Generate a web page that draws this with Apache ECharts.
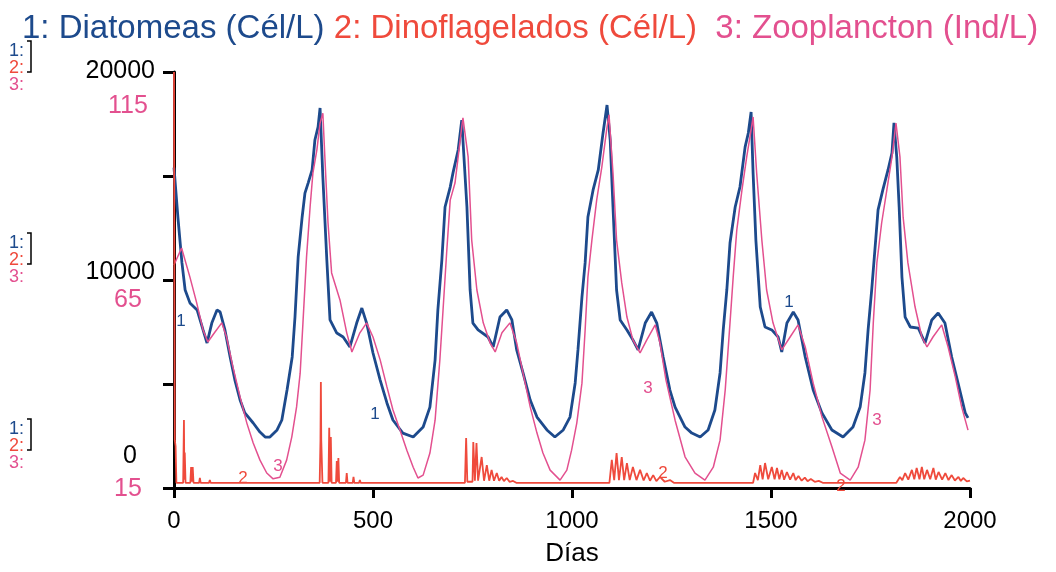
<!DOCTYPE html>
<html><head><meta charset="utf-8">
<script src="https://cdn.jsdelivr.net/npm/echarts@6/dist/echarts.min.js"></script>
<style>html,body{margin:0;padding:0;background:#fff}#c{width:1056px;height:572px}</style>
</head><body><div id="c"></div>
<script>
// ---- data ----
const titleParts = ['1: Diatomeas (Cél/L)', '2: Dinoflagelados (Cél/L)', '3: Zooplancton (Ind/L)'];
const xName = 'Días';
const xTicks = [0, 500, 1000, 1500, 2000];
const diatTickLabels = [0, 10000, 20000];
const zooTickLabels = [15, 65, 115];

const diatDays = [0,10,20,28,40,58,73,83,95,108,116,128,141,153,166,178,199,216,229,241,259,271,284,297,304,312,322,329,337,347,354,362,367,374,384,392,409,425,442,459,472,484,500,518,535,550,575,601,626,643,656,663,673,681,694,701,714,723,736,744,751,764,789,802,819,836,849,861,877,895,912,937,957,978,995,1008,1015,1025,1033,1040,1053,1066,1078,1088,1096,1103,1112,1121,1138,1153,1166,1184,1200,1213,1229,1246,1259,1284,1301,1322,1342,1359,1372,1380,1389,1397,1410,1422,1435,1443,1450,1455,1462,1473,1485,1502,1518,1527,1540,1556,1568,1586,1606,1628,1653,1681,1706,1724,1736,1744,1753,1761,1769,1781,1794,1804,1809,1816,1822,1829,1837,1850,1870,1887,1904,1920,1937,1954,1970,1988,1995];
const diatVals = [15400,12980,10820,9520,8900,8560,7600,6970,7930,8560,8460,7600,6300,5190,4230,3610,3125,2690,2450,2450,2790,3270,4710,6300,8220,11110,13030,14180,14660,15290,16730,17360,18270,14950,10960,8080,7450,7260,6780,7930,8650,7930,6490,5190,4090,3270,2640,2450,2930,3890,6150,8560,10960,13510,14470,15150,16250,17690,13510,9520,7930,7600,7260,6780,8220,8560,8080,6640,5530,4230,3410,2790,2450,2790,3410,5050,6640,9180,10820,13030,14330,15290,17070,18410,16730,13510,9520,8080,7600,7120,6640,7930,8460,7930,6300,4710,3890,2930,2640,2450,2790,3750,5530,7600,9520,11780,13510,14470,16400,17070,18080,15150,11920,8700,7740,7600,7260,6540,7930,8460,8080,6300,4710,3610,2790,2450,2930,3890,5530,7600,9520,11440,13370,14330,15290,16110,17550,15910,13510,10140,8220,7740,7690,6970,8080,8410,7930,6300,5050,3610,3370];

const zooDays = [0,19,40,57,73,85,103,120,132,148,166,183,199,216,233,249,266,283,296,308,317,324,333,342,349,359,367,374,379,387,396,417,434,447,467,484,500,518,535,550,568,585,601,613,626,643,656,668,676,685,694,706,714,723,726,739,748,761,777,794,807,824,844,861,877,895,912,927,945,970,987,999,1012,1025,1033,1040,1050,1062,1075,1087,1093,1103,1112,1125,1138,1153,1171,1188,1209,1221,1236,1259,1284,1309,1334,1355,1372,1385,1397,1405,1414,1427,1439,1450,1455,1464,1477,1489,1505,1527,1548,1568,1586,1606,1628,1653,1674,1699,1719,1736,1749,1757,1766,1778,1791,1804,1814,1824,1832,1844,1862,1879,1892,1907,1929,1945,1963,1979,1995];
const zooVals = [68.6,72.7,65.7,59.5,53.0,50.1,52.5,54.7,51.3,44.1,36.9,30.6,25.8,21.7,18.6,17.2,17.6,21.7,27.3,34.5,42.6,54.7,70.5,82.6,90.7,96.3,102.7,105.1,94.6,78.7,66.7,60.2,52.3,47.7,52.3,54.7,51.3,45.8,39.3,33.8,28.9,24.1,20.0,17.4,18.1,23.4,31.3,45.8,57.8,71.5,84.2,88.3,94.6,101.8,104.0,94.6,74.6,62.6,54.7,49.9,47.7,52.3,54.7,49.9,42.6,34.5,28.2,23.4,19.3,16.9,19.3,24.1,30.6,40.2,53.0,65.7,74.6,84.2,92.2,101.1,104.7,90.7,74.6,64.3,56.1,50.6,47.5,50.6,54.2,49.9,41.0,31.3,22.5,18.6,16.9,20.0,26.5,38.6,54.7,65.7,77.0,86.6,94.6,101.1,104.2,90.7,74.6,62.6,54.7,48.2,51.3,54.2,48.9,40.2,32.1,24.9,18.6,16.9,20.0,26.5,38.6,54.7,69.1,78.7,86.6,94.6,102.7,94.6,80.1,69.1,58.5,51.3,48.9,51.3,54.2,48.9,41.7,34.5,28.9];

const dinoDays = [0,1,2,4,6, 23,25,26,27,29, 41,43,45,47,49, 63,65,67, 88,90,92,
  366,368,369,370,372,373, 388,390,392,394,396, 407,409,411,413,415, 432,434,436, 449,451,453, 465,467,469, 478,480,482,
  731,734,737,750,752,756,760,764,773,779,786,792,798,804,811,817,823,829,836,843,852,860,
  1094,1100,1106,1112,1118,1125,1131,1138,1145,1153,1162,1171,1180,1188,1196,1204,1212,1221,1233,1246,1256,
  1455,1460,1467,1473,1479,1485,1493,1502,1509,1515,1521,1527,1533,1540,1548,1556,1562,1569,1577,1585,1592,1600,1610,1620,1630,
  1815,1824,1830,1837,1845,1854,1860,1866,1873,1879,1885,1892,1900,1908,1914,1921,1930,1938,1946,1954,1962,1971,1977,1983,1992,2000];
const dinoVals = [20000,9000,2300,2000,250, 250,3270,400,1700,250, 250,1010,300,1010,250, 250,480,250, 250,380,250,
  250,2300,5100,2300,2300,250, 250,2890,300,2450,250, 250,1300,300,1440,250, 250,720,250, 250,530,250, 250,380,250, 250,340,250,
  250,2400,300,300,2210,350,2160,350,1490,350,1100,350,870,350,720,350,530,330,480,300,340,250,
  250,1350,380,1680,380,1490,380,1200,380,1010,380,870,360,720,350,620,330,530,300,380,250,
  250,720,380,1100,420,1200,420,1010,420,960,420,870,400,770,400,720,380,580,350,500,330,430,300,340,250,
  250,530,380,720,400,870,420,960,420,1010,420,870,420,960,400,770,400,720,380,620,360,530,340,480,320,350];

// ---- styles ----
const BLUE = '#1d4a8c', RED = '#ef4a3c', PINK = '#e3508f';
const FONT = 'Liberation Sans, Arial, sans-serif';
const zip = (a, b) => a.map((d, i) => [d, b[i]]);

const chart = echarts.init(document.getElementById('c'), null, {renderer: 'canvas'});

function legendBlock(yc) {
  const items = [['1:', BLUE, -17], ['2:', RED, 0], ['3:', PINK, 17]];
  const out = items.map(([t, c, dy]) => ({
    type: 'text', x: 9, y: yc + dy, z: 10,
    style: {text: t, fill: c, fontSize: 18, fontFamily: FONT, align: 'left', verticalAlign: 'middle'}
  }));
  out.push({type: 'polyline', z: 10, shape: {points: [[27, yc - 27], [31, yc - 27], [31, yc + 4], [27, yc + 4]]},
    style: {stroke: '#000', lineWidth: 1.5, fill: null}});
  return out;
}
function curveLabel(t, c, x, y) {
  return {type: 'text', x: x, y: y, z: 10,
    style: {text: t, fill: c, fontSize: 17, fontFamily: FONT, align: 'center', verticalAlign: 'middle'}};
}

const option = {
  animation: false,
  backgroundColor: '#fff',
  title: {
    left: 17, top: 7, padding: [5, 5, 5, 5],
    text: '{a|' + titleParts[0] + '} {b|' + titleParts[1] + '}  {c|' + titleParts[2] + '}',
    textStyle: {fontSize: 33, fontWeight: 'normal', fontFamily: FONT,
      rich: {
        a: {color: BLUE, fontSize: 33, fontFamily: FONT},
        b: {color: RED, fontSize: 33, fontFamily: FONT},
        c: {color: PINK, fontSize: 33, fontFamily: FONT}
      }}
  },
  grid: {left: 174, right: 86, top: 72, bottom: 84, containLabel: false},
  xAxis: {
    type: 'value', min: 0, max: 2000, interval: 500,
    axisLine: {lineStyle: {color: '#000', width: 3}},
    axisTick: {length: 10, lineStyle: {color: '#000', width: 3}},
    splitLine: {show: false},
    axisLabel: {fontSize: 24, color: '#000', fontFamily: FONT, margin: 21,
      formatter: v => xTicks.includes(v) ? String(v) : ''},
    name: xName, nameLocation: 'middle', nameGap: 53,
    nameTextStyle: {fontSize: 26, color: '#000', fontFamily: FONT}
  },
  yAxis: [{
    type: 'value', min: 0, max: 20000, interval: 5000, position: 'left',
    axisLine: {show: true, lineStyle: {color: '#000', width: 3}},
    axisTick: {show: true, length: 11, lineStyle: {color: '#000', width: 3}},
    splitLine: {show: false},
    axisLabel: {
      color: '#000', fontSize: 25, fontFamily: FONT, align: 'right', margin: 19,
      formatter: v => {
        if (!diatTickLabels.includes(v)) return '';
        if (v === 20000) return '{t|' + v + '}';
        if (v === 10000) return '{m|' + v + '}';
        return '{b|' + v + '}';
      },
      rich: {
        t: {fontSize: 25, color: '#000', fontFamily: FONT, padding: [0, 0, 2, 0]},
        m: {fontSize: 25, color: '#000', fontFamily: FONT, padding: [0, 0, 16, 0]},
        b: {fontSize: 25, color: '#000', fontFamily: FONT, padding: [0, 18, 64, 0]}
      }
    }
  }, {
    type: 'value', min: 15, max: 115, interval: 50, position: 'left', offset: 0,
    axisLine: {show: false}, axisTick: {show: false}, splitLine: {show: false},
    axisLabel: {
      color: PINK, fontSize: 25, fontFamily: FONT, align: 'center', margin: 46,
      formatter: v => {
        if (!zooTickLabels.includes(v)) return '';
        if (v === 115) return '{t|' + v + '}';
        if (v === 65) return '{m|' + v + '}';
        return '{b|' + v + '}';
      },
      rich: {
        t: {fontSize: 25, color: PINK, fontFamily: FONT, padding: [68, 0, 0, 0]},
        m: {fontSize: 25, color: PINK, fontFamily: FONT, padding: [40, 0, 0, 0]},
        b: {fontSize: 25, color: PINK, fontFamily: FONT, padding: [2, 0, 0, 0]}
      }
    }
  }],
  series: [
    {name: titleParts[0], type: 'line', yAxisIndex: 0, showSymbol: false, z: 3,
      lineStyle: {color: BLUE, width: 2.8}, data: zip(diatDays, diatVals)},
    {name: titleParts[2], type: 'line', yAxisIndex: 1, showSymbol: false, z: 4,
      lineStyle: {color: PINK, width: 1.5}, data: zip(zooDays, zooVals)},
    {name: titleParts[1], type: 'line', yAxisIndex: 0, showSymbol: false, z: 5,
      lineStyle: {color: RED, width: 1.8}, data: zip(dinoDays, dinoVals)}
  ],
  graphic: [].concat(
    legendBlock(68), legendBlock(260), legendBlock(446),
    [curveLabel('1', BLUE, 181, 321), curveLabel('1', BLUE, 375, 414), curveLabel('1', BLUE, 789, 302),
     curveLabel('3', PINK, 278, 466), curveLabel('3', PINK, 648, 388), curveLabel('3', PINK, 877, 420),
     curveLabel('2', RED, 243, 478), curveLabel('2', RED, 663, 473), curveLabel('2', RED, 841, 486)]
  )
};
chart.setOption(option);
</script>
</body></html>
